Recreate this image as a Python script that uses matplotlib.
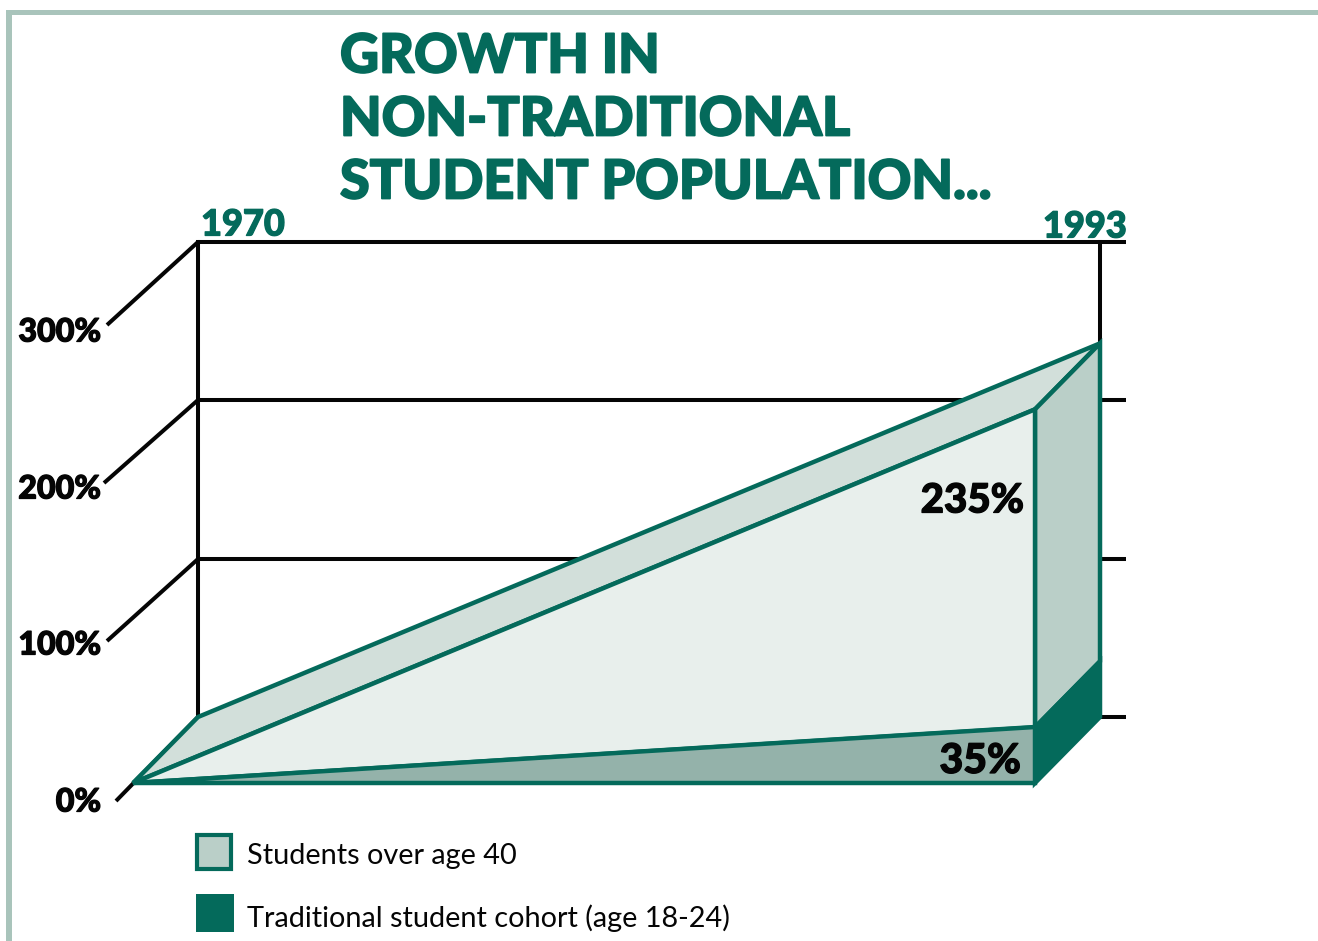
from __future__ import annotations

import matplotlib

matplotlib.use("Agg")
import matplotlib.patheffects as pe  # noqa: E402
import matplotlib.pyplot as plt  # noqa: E402
from matplotlib.patches import Polygon, Rectangle  # noqa: E402

YEARS = [1970, 1993]
OVER_40 = [0, 235]
TRADITIONAL = [0, 35]
GRID_TICKS = [0, 100, 200, 300]
TICK_LABELS = ["0%", "100%", "200%", "300%"]
TITLE_LINES = ["GROWTH IN", "NON-TRADITIONAL", "STUDENT POPULATION..."]
LEGEND_LABELS = ["Students over age 40", "Traditional student cohort (age 18-24)"]

WIDTH, HEIGHT = 1318, 941
GREEN = "#046a5b"
FRAME = "#a9c4bb"
FRONT = "#e8efec"
TOP = "#d2dfda"
SIDE = "#bacfc8"
LOWER = "#94b2aa"
BLACK = "#050505"

# pixels per unit
PX_YEAR = (1035 - 133) / (YEARS[1] - YEARS[0])
PX_PCT = 1.59
DEPTH_X = 65 / PX_YEAR
DEPTH_Y = 66 / PX_PCT

plt.rcParams["font.family"] = ["Lato", "DejaVu Sans"]


def back(x: float, y: float) -> tuple[float, float]:
    return x + DEPTH_X, y + DEPTH_Y


def heavy(color: str, width: float = 0.9) -> list:
    # Lato bold is lighter than the printed face, thicken it a little
    return [pe.withStroke(linewidth=width, foreground=color)]


def main() -> None:
    fig = plt.figure(figsize=(WIDTH / 100, HEIGHT / 100), dpi=100)
    ax = fig.add_axes((0, 0, 1, 1))
    ax.set_xlim(YEARS[0] - 133 / PX_YEAR, YEARS[0] + (WIDTH - 133) / PX_YEAR)
    ax.set_ylim(-(HEIGHT - 783) / PX_PCT, 783 / PX_PCT)
    ax.axis("off")

    # page frame, left and top edges only
    fig.add_artist(Rectangle((0.0045, 0), 0.0045, 0.988, transform=fig.transFigure, color=FRAME, lw=0))
    fig.add_artist(Rectangle((0.0045, 0.984), 0.9955, 0.0055, transform=fig.transFigure, color=FRAME, lw=0))

    x0, x1 = YEARS
    rear_left = back(x0, 0)[0]
    rear_right = back(x1, 0)[0]
    stub = 26 / PX_YEAR

    # back wall grid and the slanted floor ticks, spaced as printed
    for by_px, slant_x, slant_y in zip([717, 559, 400, 242], [82, 91, 94, 91], [84, 82, 83, 83]):
        by = (783 - by_px) / PX_PCT
        ax.plot([rear_left, rear_right + stub], [by, by], color=BLACK, lw=2.9, solid_capstyle="butt", zorder=1)
        ax.plot([rear_left, rear_left - slant_x / PX_YEAR], [by, by - slant_y / PX_PCT], color=BLACK, lw=2.9,
                solid_capstyle="butt", zorder=1)
    bottom_y, top_y = (783 - 717) / PX_PCT, (783 - 242) / PX_PCT
    ax.plot([rear_left, rear_left], [bottom_y, top_y], color=BLACK, lw=2.9, zorder=1)
    ax.plot([rear_right, rear_right], [bottom_y, top_y], color=BLACK, lw=2.9, zorder=1)

    def shape(points: list[tuple[float, float]], fill: str, z: int = 2) -> None:
        ax.add_patch(Polygon(points, closed=True, facecolor=fill, edgecolor=GREEN, lw=3.2, joinstyle="miter", zorder=z))

    # slanted top of the wedge
    shape([(x0, 0), back(x0, 0), back(x1, OVER_40[1]), (x1, OVER_40[1])], TOP)
    # right hand side, light upper and dark lower
    shape([(x1, TRADITIONAL[1]), back(x1, TRADITIONAL[1]), back(x1, OVER_40[1]), (x1, OVER_40[1])], SIDE)
    shape([(x1, 0), back(x1, 0), back(x1, TRADITIONAL[1]), (x1, TRADITIONAL[1])], GREEN)
    # front faces
    shape([(x0, 0), (x1, TRADITIONAL[1]), (x1, OVER_40[1])], FRONT, 3)
    shape([(x0, 0), (x1, 0), (x1, TRADITIONAL[1])], LOWER, 3)

    def put(px: float, py: float, text: str, **kwargs) -> None:
        fig.text(px / WIDTH, 1 - py / HEIGHT, text, **kwargs)

    for line, py in zip(TITLE_LINES, [57, 120, 183]):
        put(340, py, line, color=GREEN, fontsize=38.8, fontweight=900, va="center", ha="left",
            path_effects=heavy(GREEN, 1.3))

    put(243, 225, str(YEARS[0]), color=GREEN, fontsize=26, fontweight=900, ha="center", va="center",
        path_effects=heavy(GREEN))
    put(1085, 227, str(YEARS[1]), color=GREEN, fontsize=26, fontweight=900, ha="center", va="center",
        path_effects=heavy(GREEN))

    for label, py in zip(TICK_LABELS, [802, 645, 489, 332]):
        put(101, py, label, color=BLACK, fontsize=23.2, fontweight=900, ha="right", va="center",
            path_effects=heavy(BLACK))

    put(1024, 501, f"{OVER_40[1]}%", color=BLACK, fontsize=29, fontweight=900, ha="right", va="center", zorder=5,
        path_effects=heavy(BLACK))
    put(1021, 761, f"{TRADITIONAL[1]}%", color=BLACK, fontsize=29.5, fontweight=900, ha="right", va="center", zorder=5,
        path_effects=heavy(BLACK))

    fig.add_artist(Rectangle((197 / WIDTH, 1 - 869 / HEIGHT), 34 / WIDTH, 34 / HEIGHT, transform=fig.transFigure,
                             facecolor=SIDE, edgecolor=GREEN, lw=3))
    fig.add_artist(Rectangle((196 / WIDTH, 1 - 932 / HEIGHT), 38 / WIDTH, 38 / HEIGHT, transform=fig.transFigure,
                             facecolor=GREEN, edgecolor=GREEN, lw=0))
    put(247, 856, LEGEND_LABELS[0], color=BLACK, fontsize=20.8, ha="left", va="center")
    put(247, 918, LEGEND_LABELS[1], color=BLACK, fontsize=20.8, ha="left", va="center")

    fig.savefig("out.png", dpi=100, facecolor="white")
    plt.close(fig)


if __name__ == "__main__":
    main()
